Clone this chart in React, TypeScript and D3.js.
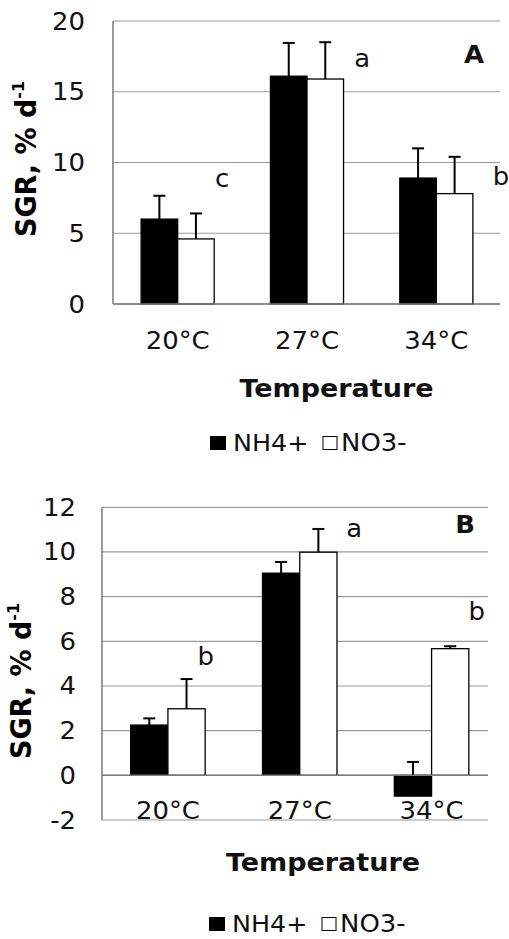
import React from "react";
import * as d3 from "d3";

// categories and series
const categories = ["20°C", "27°C", "34°C"];
const seriesNames = ["NH4+", "NO3-"];

// panel A values (SGR, % per day)
const nh4A = [6.0, 16.1, 8.9];
const no3A = [4.6, 15.9, 7.8];
const nh4ErrA = [1.65, 2.35, 2.1];
const no3ErrA = [1.8, 2.6, 2.6];
const ticksA = [0, 5, 10, 15, 20];
const lettersA = [
  { cat: 0, frac: 0.843, value: 8.27, text: "c" },
  { cat: 1, frac: 0.926, value: 16.75, text: "a" },
  { cat: 2, frac: 1.0, value: 8.4, text: "b" },
];

// panel B values
const nh4B = [2.25, 9.05, -0.93];
const no3B = [2.98, 9.99, 5.67];
const nh4ErrB = [0.3, 0.5, 1.53];
const no3ErrB = [1.33, 1.04, 0.11];
const ticksB = [-2, 0, 2, 4, 6, 8, 10, 12];
const lettersB = [
  { cat: 0, frac: 0.786, value: 4.93, text: "b" },
  { cat: 1, frac: 0.913, value: 10.68, text: "a" },
  { cat: 2, frac: 0.843, value: 6.95, text: "b" },
];

const FONT = "'DejaVu Sans', Verdana, sans-serif";
const SX = 1.08; // the source text is a bit wider than DejaVu

type Letter = { cat: number; frac: number; value: number; text: string };

// stretched text helper
function T(props: { x: number; y: number; anchor?: string; size?: number; bold?: boolean; children: React.ReactNode }) {
  return (
    <text transform={`translate(${props.x},${props.y}) scale(${SX},1)`} textAnchor={props.anchor || "start"}
      fontSize={props.size || 24} fontWeight={props.bold ? "bold" : "normal"} fontFamily={FONT} fill="#111">
      {props.children}
    </text>
  );
}

type PanelProps = {
  top: number; bottom: number; left: number; bandRight: number; gridRight: number;
  domain: [number, number]; ticks: number[];
  series: number[][]; errors: number[][]; letters: Letter[];
  panelLabel: string; panelLabelX: number; panelLabelValue: number;
  tickRight: number; xLabelY: number;
  yTitleX: number; yTitleY: number;
  xTitleX: number; xTitleY: number;
  legendX: number; legendY: number;
};

function Panel(p: PanelProps) {
  const y = d3.scaleLinear().domain(p.domain).range([p.bottom, p.top]);
  const x0 = d3.scaleBand().domain(categories).range([p.left, p.bandRight]).padding(0);
  const x1 = d3.scaleBand().domain(seriesNames).range([0, x0.bandwidth()]).paddingInner(0).paddingOuter(0.77);
  const capW = 12;

  return (
    <g>
      {/* gridlines */}
      {p.ticks.map((t) => (
        <line key={"g" + t} x1={p.left} x2={p.gridRight} y1={y(t)} y2={y(t)} stroke="#9a9a9a" strokeWidth={1.2} />
      ))}
      {/* y tick labels */}
      {p.ticks.map((t) => (
        <T key={"t" + t} x={p.tickRight} y={y(t) + 8.5} anchor="end">{t}</T>
      ))}
      {/* bars */}
      {categories.map((c, ci) =>
        seriesNames.map((s, si) => {
          const v = p.series[si][ci];
          const bx = (x0(c) as number) + (x1(s) as number);
          return (
            <rect key={c + s} x={bx} width={x1.bandwidth()}
              y={y(Math.max(0, v))} height={Math.abs(y(v) - y(0))}
              fill={si === 0 ? "#000" : "#fff"} stroke="#000" strokeWidth={1.3} />
          );
        })
      )}
      {/* error bars */}
      {categories.map((c, ci) =>
        seriesNames.map((s, si) => {
          const v = p.series[si][ci];
          const e = p.errors[si][ci];
          const cx = (x0(c) as number) + (x1(s) as number) + x1.bandwidth() / 2;
          return (
            <g key={"e" + c + s} stroke="#000" strokeWidth={2}>
              <line x1={cx} x2={cx} y1={y(v)} y2={y(v + e)} />
              <line x1={cx - capW / 2} x2={cx + capW / 2} y1={y(v + e)} y2={y(v + e)} />
            </g>
          );
        })
      )}
      {/* axes */}
      <line x1={p.left} x2={p.left} y1={y(p.domain[1])} y2={y(p.domain[0])} stroke="#7a7a7a" strokeWidth={1.5} />
      <line x1={p.left} x2={p.gridRight} y1={y(0)} y2={y(0)} stroke="#7a7a7a" strokeWidth={1.5} />
      {/* category labels */}
      {categories.map((c) => (
        <T key={"x" + c} x={(x0(c) as number) + x0.bandwidth() / 2} y={p.xLabelY} anchor="middle">{c}</T>
      ))}
      {/* significance letters */}
      {p.letters.map((l, i) => (
        <T key={"l" + i} x={(x0(categories[l.cat]) as number) + x0.bandwidth() * l.frac} y={y(l.value)} anchor="middle">
          {l.text}
        </T>
      ))}
      <T x={p.panelLabelX} y={y(p.panelLabelValue)} anchor="middle" bold>{p.panelLabel}</T>
      {/* y title */}
      <text transform={`translate(${p.yTitleX},${p.yTitleY}) rotate(-90) scale(1,1.02)`} textAnchor="middle" fontSize={27} fontWeight="bold" fontFamily={FONT}>
        SGR, % d<tspan fontSize={16} dy={-12}>-1</tspan>
      </text>
      {/* x title */}
      <T x={p.xTitleX} y={p.xTitleY} anchor="middle" size={25} bold>Temperature</T>
      {/* legend */}
      <rect x={p.legendX} y={p.legendY - 15} width={16} height={14} fill="#000" />
      <T x={p.legendX + 23} y={p.legendY} size={23.5}>{seriesNames[0]}</T>
      <rect x={p.legendX + 113} y={p.legendY - 14.5} width={14} height={13} fill="#fff" stroke="#000" strokeWidth={1} />
      <T x={p.legendX + 131} y={p.legendY}>{seriesNames[1]}</T>
    </g>
  );
}

export default function App() {
  return (
    <svg width={509} height={939} style={{ position: "absolute", left: 0, top: 0, background: "#fff" }}>
      <rect width={509} height={939} fill="#fff" />
      <Panel top={21} bottom={304} left={113} bandRight={501} gridRight={500}
        domain={[0, 20]} ticks={ticksA}
        series={[nh4A, no3A]} errors={[nh4ErrA, no3ErrA]} letters={lettersA}
        panelLabel="A" panelLabelX={474} panelLabelValue={17.0}
        tickRight={85} xLabelY={349}
        yTitleX={36} yTitleY={159}
        xTitleX={336.5} xTitleY={397}
        legendX={210} legendY={451} />
      <Panel top={507.3} bottom={820} left={102} bandRight={497.5} gridRight={488}
        domain={[-2, 12]} ticks={ticksB}
        series={[nh4B, no3B]} errors={[nh4ErrB, no3ErrB]} letters={lettersB}
        panelLabel="B" panelLabelX={465} panelLabelValue={10.84}
        tickRight={76} xLabelY={819}
        yTitleX={31} yTitleY={681}
        xTitleX={323} xTitleY={871}
        legendX={209} legendY={932} />
    </svg>
  );
}
